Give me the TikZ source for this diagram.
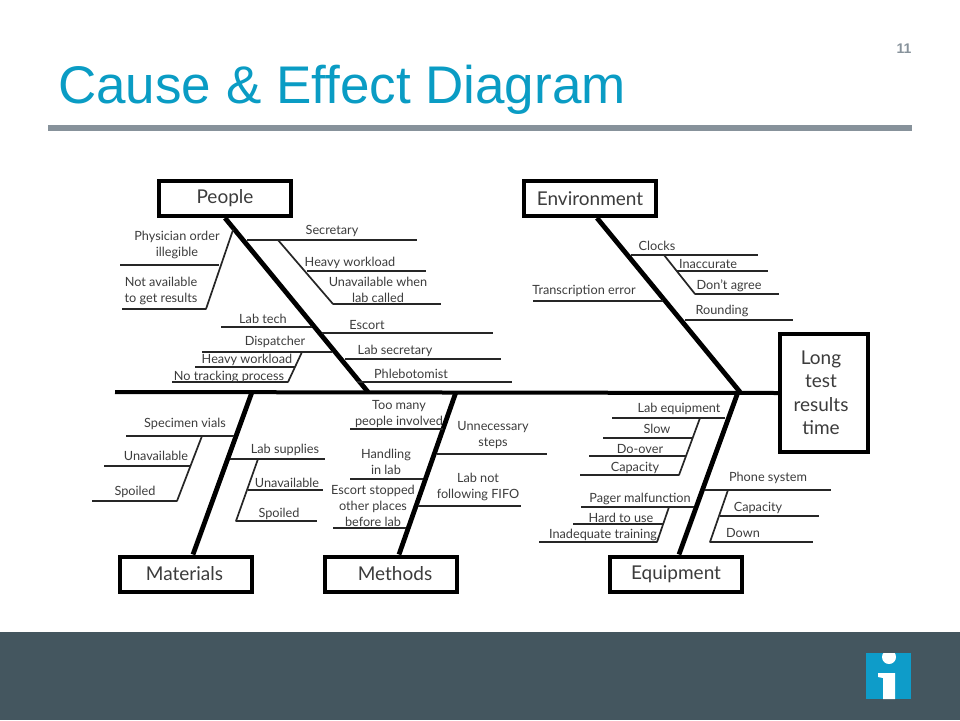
\documentclass[tikz,border=0pt]{standalone}
\usepackage{fontspec}
\setmainfont{Lato}
\newfontfamily\titlefont{Liberation Sans}
\definecolor{titleblue}{HTML}{0A9CC4}
\definecolor{rulegray}{HTML}{87929B}
\definecolor{footerslate}{HTML}{44565F}
\definecolor{logoblue}{HTML}{0E9CC9}
\definecolor{inkgray}{HTML}{3C3C3C}
\tikzset{
  catbox/.style={draw=black, line width=4pt, fill=white, minimum width=132pt, minimum height=35pt, inner sep=0pt, text=inkgray, font=\fontsize{19}{23.5}\selectfont, align=center},
  cause/.style={inner sep=0pt, yshift=-1.2pt, text=inkgray, font=\fontsize{12.7}{15.7}\selectfont, align=center},
  bone/.style={line width=4.8pt, black},
  rib/.style={line width=1.7pt, black!85},
}
\begin{document}
\begin{tikzpicture}[x=1pt, y=-1pt]
\useasboundingbox (0,0) rectangle (960,720);
\fill[footerslate] (0,632) rectangle (960,720);
\fill[rulegray] (48,125) rectangle (912,131);
\node[anchor=west, inner sep=0pt, text=titleblue, font=\titlefont\fontsize{53}{60}\selectfont] (title) at (58,89.5) {Cause \& Effect Diagram};
\node[inner sep=0pt, text=rulegray, font=\titlefont\bfseries\fontsize{14}{16}\selectfont] (pagenum) at (904,49) {11};
\fill[logoblue] (866,653) rectangle (911,699);
\begin{scope}
\clip (866,653) rectangle (911,699);
\fill[white] (889,657) circle (7);
\end{scope}
\fill[white] (878,673) -- (895,673) -- (895,699) -- (883,699) -- (883,678) -- (878,677) -- cycle;
\node[catbox] (people) at (225,198.5) {People};
\node[catbox] (environment) at (590,198.5) {Environment};
\node[catbox] (materials) at (186,574) {\hspace*{-3pt}Materials};
\node[catbox] (methods) at (391,574) {\hspace*{8pt}Methods};
\node[catbox] (equipment) at (676,574) {Equipment};
\node[catbox, minimum width=88pt, minimum height=118pt] (longtime) at (824,393) {};
\node[cause, yshift=1.2pt, font=\fontsize{19}{23.5}\selectfont] (tlong) at (821,393) {Long\\test\\results\\time};
\coordinate (spinestart) at (115,392);
\coordinate (jointpeople) at (368,392);
\coordinate (jointenv) at (740,392);
\coordinate (jointmat) at (252,392);
\coordinate (jointmeth) at (456,392);
\coordinate (jointequip) at (738,392);
\draw[line width=4pt, black] (spinestart) -- (longtime.west);
\draw[bone] (people.south) -- (jointpeople);
\draw[bone] ([xshift=7pt]environment.south) -- (jointenv);
\draw[bone] ([xshift=7pt]materials.north) -- (jointmat);
\draw[bone] ([xshift=8pt]methods.north) -- (jointmeth);
\draw[bone] ([xshift=3pt]equipment.north) -- (jointequip);
\foreach \nm/\xa/\xb/\yy in {
  secretary/247/417/240, heavyA/307/426/271, unavailwhen/333/441/304, physician/120/219/265, notavail/122/206/309,
  labtech/221/312/327, escort/322/493/333, dispatcher/202/332/352, labsec/345/501/359, heavyB/195/295/367,
  notrack/172/288/382, phleb/357/512/382,
  clocks/631/758/255, inacc/677/768/271, agree/695/779/294, transcr/533/663/301, rounding/685/793/320,
  vials/126/234/436, unavailA/104/190/466, spoiledA/92/177/501, labsup/230/325/459, unavailB/248/323/490, spoiledB/236/317/521,
  toomany/350/443/429, handling/350/423/479, stopped/333/406/528, unnec/437/547/454, fifo/418/521/506,
  labequip/612/725/418, slow/603/693/438, doover/589/686/456, capA/580/679/475,
  pager/581/694/507, hard/573/663/524, inadeq/539/657/542,
  phone/705/831/490, capB/720/819/516, down/710/813/542}{
  \coordinate (\nm L) at (\xa,\yy);
  \coordinate (\nm R) at (\xb,\yy);
  \draw[rib] (\nm L) -- (\nm R);
}
\foreach \nm/\xa/\ya/\xb/\yb in {
  subsec/278/240/333/304, subphys/233/230/206/309, subdisp/302/352/288/382, subclock/664/255/695/294,
  subvial/202/436/177/501, subsup/258/459/236/521, sublabeq/700/418/679/475, subpager/669/507/657/542, subphone/728/490/710/542}{
  \coordinate (\nm A) at (\xa,\ya);
  \coordinate (\nm B) at (\xb,\yb);
  \draw[rib, line cap=round] (\nm A) -- (\nm B);
}
\node[cause] (tsecretary) at (332,230) {Secretary};
\node[cause] (theavyA) at (350,262) {Heavy workload};
\node[cause] (tunavailwhen) at (378,289) {Unavailable when\\lab called};
\node[cause] (tphysician) at (177,244) {Physician order\\illegible};
\node[cause] (tnotavail) at (161,290) {Not available\\to get results};
\node[cause] (tlabtech) at (263,318) {Lab tech};
\node[cause] (tescort) at (367,324) {Escort};
\node[cause] (tdispatcher) at (275,341) {Dispatcher};
\node[cause] (tlabsec) at (395,350) {Lab secretary};
\node[cause] (theavyB) at (247,359) {Heavy workload};
\node[cause] (tnotrack) at (229,376) {No tracking process};
\node[cause] (tphleb) at (411,373) {Phlebotomist};
\node[cause] (tclocks) at (657,245) {Clocks};
\node[cause] (tinacc) at (708,263) {Inaccurate};
\node[cause] (tagree) at (729,285) {Don't agree};
\node[cause] (ttranscr) at (584,290) {Transcription error};
\node[cause] (trounding) at (722,310) {Rounding};
\node[cause] (tvials) at (185,423) {Specimen vials};
\node[cause] (tunavailA) at (156,455) {Unavailable};
\node[cause] (tspoiledA) at (135,491) {Spoiled};
\node[cause] (tlabsup) at (285,449) {Lab supplies};
\node[cause] (tunavailB) at (287,482) {Unavailable};
\node[cause] (tspoiledB) at (279,513) {Spoiled};
\node[cause] (ttoomany) at (399,413) {Too many\\people involved};
\node[cause] (thandling) at (386,460.5) {Handling\\in lab};
\node[cause] (tstopped) at (373,504.5) {Escort stopped\\other places\\before lab};
\node[cause] (tunnec) at (493,434) {Unnecessary\\steps};
\node[cause] (tfifo) at (478,485.5) {Lab not\\following FIFO};
\node[cause] (tlabequip) at (679,408) {Lab equipment};
\node[cause] (tslow) at (657,428) {Slow};
\node[cause] (tdoover) at (640,448) {Do-over};
\node[cause] (tcapA) at (635,467) {Capacity};
\node[cause] (tpager) at (640,498) {Pager malfunction};
\node[cause] (thard) at (621,517) {Hard to use};
\node[cause] (tinadeq) at (603,534) {Inadequate training};
\node[cause] (tphone) at (768,477) {Phone system};
\node[cause] (tcapB) at (758,507) {Capacity};
\node[cause] (tdown) at (743,532) {Down};
\end{tikzpicture}
\end{document}
